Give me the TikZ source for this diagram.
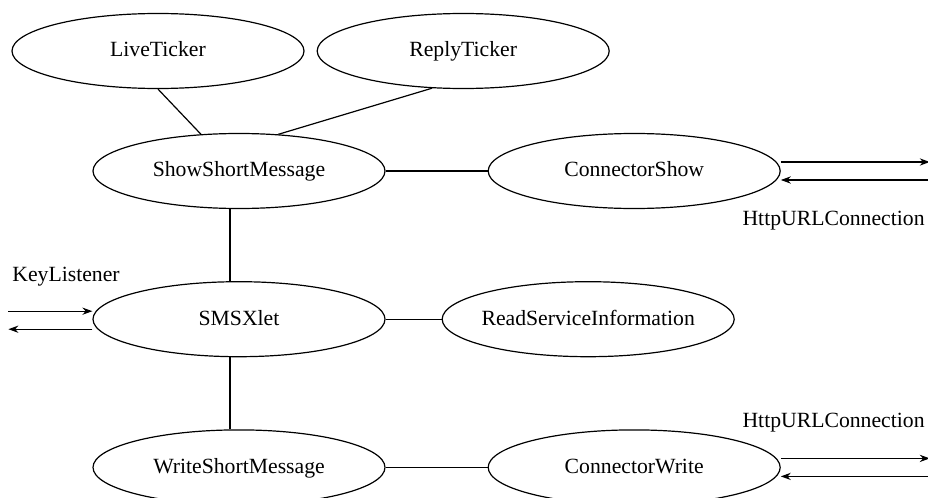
\documentclass[tikz,border=0pt]{standalone}
\usepackage{fontspec}
\setmainfont{Liberation Serif}
\usepackage{tikz}
\usetikzlibrary{shapes.geometric, arrows.meta, positioning}

\begin{document}
\begin{tikzpicture}[x=0.5pt, y=-0.5pt]
\tikzstyle{module} = [ellipse, draw, line width=0.6pt, inner sep=0pt, minimum width=146pt, minimum height=37.5pt, text height=1.6ex, text depth=0.3ex, font=\fontsize{10.85}{13}\selectfont]
\tikzstyle{conn} = [line width=0.6pt]
\tikzstyle{arrow} = [line width=0.6pt, ->, >={Stealth[length=5pt, width=3.6pt]}]
\tikzstyle{iface} = [inner sep=0pt, font=\fontsize{10.85}{13}\selectfont]

\useasboundingbox (0,0) rectangle (928,498);

\node (show) [module] at (239,171) {ShowShortMessage};
\node (conshow) [module, right=51pt of show] {ConnectorShow};
\node (live) [module] at (158,51) {LiveTicker};
\node (reply) [module, right=6pt of live] {ReplyTicker};
\node (smsx) [module, below=36pt of show] {SMSXlet};
\node (readsi) [module, right=28pt of smsx] {\makebox[0pt]{ReadServiceInformation}};
\node (write) [module, below=36pt of smsx] {WriteShortMessage};
\node (conwrite) [module, right=51pt of write] {ConnectorWrite};

% free ends of the interfaces
\coordinate (showout) at ([yshift=4.5pt, xshift=74.5pt]conshow.east);
\coordinate (showin) at ([yshift=-4.5pt, xshift=74.5pt]conshow.east);
\coordinate (writeout) at ([yshift=4.5pt, xshift=74.5pt]conwrite.east);
\coordinate (writein) at ([yshift=-4.5pt, xshift=74.5pt]conwrite.east);
\coordinate (keyin) at ([yshift=4pt, xshift=-42pt]smsx.west);
\coordinate (keyout) at ([yshift=-5pt, xshift=-42pt]smsx.west);

\node (keylbl) [iface, anchor=west] at (12,277) {KeyListener};
\node (httpshow) [iface, anchor=east] at (925,221) {HttpURLConnection};
\node (httpwrite) [iface, anchor=east] at (925,423) {HttpURLConnection};

\draw [conn] (live.south) -- (show.136);
\draw [conn] (reply.230) -- (show.43);
\draw [conn] (show) -- (conshow);
\draw [conn] ([xshift=-4.5pt]show.south) -- ([xshift=-4.5pt]smsx.north);
\draw [conn] (smsx) -- (readsi);
\draw [conn] ([xshift=-4.5pt]smsx.south) -- ([xshift=-4.5pt]write.north);
\draw [conn] (write) -- (conwrite);

\draw [arrow] ([yshift=4.5pt]conshow.east) -- (showout);
\draw [arrow] (showin) -- ([yshift=-4.5pt]conshow.east);
\draw [arrow] ([yshift=4.5pt]conwrite.east) -- (writeout);
\draw [arrow] (writein) -- ([yshift=-4.5pt]conwrite.east);
\draw [arrow] (keyin) -- ([yshift=4pt]smsx.west);
\draw [arrow] ([yshift=-5pt]smsx.west) -- (keyout);

\end{tikzpicture}
\end{document}
